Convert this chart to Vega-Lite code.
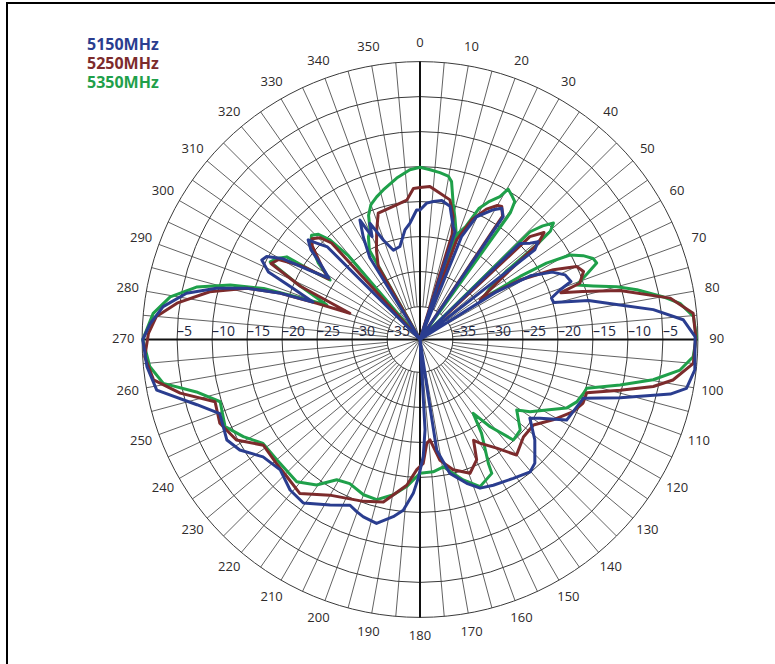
{
  "$schema": "https://vega.github.io/schema/vega-lite/v6.json",
  "width": 768,
  "height": 661,
  "padding": {"left": 7, "top": 3, "right": 0, "bottom": 0},
  "autosize": {"type": "none"},
  "background": "white",
  "config": {"view": {"stroke": "black", "strokeWidth": 2, "strokeDash": [768, 1429, 661]}, "font": "Open Sans"},
  "datasets": {
    "rings": [{"db": 0}, {"db": -5}, {"db": -10}, {"db": -15}, {"db": -20}, {"db": -25}, {"db": -30}, {"db": -35}],
    "spokes": [{"a":5},{"a":10},{"a":15},{"a":20},{"a":25},{"a":30},{"a":35},{"a":40},{"a":45},{"a":50},{"a":55},{"a":60},{"a":65},{"a":70},{"a":75},{"a":80},{"a":85},{"a":95},{"a":100},{"a":105},{"a":110},{"a":115},{"a":120},{"a":125},{"a":130},{"a":135},{"a":140},{"a":145},{"a":150},{"a":155},{"a":160},{"a":165},{"a":170},{"a":175},{"a":185},{"a":190},{"a":195},{"a":200},{"a":205},{"a":210},{"a":215},{"a":220},{"a":225},{"a":230},{"a":235},{"a":240},{"a":245},{"a":250},{"a":255},{"a":260},{"a":265},{"a":275},{"a":280},{"a":285},{"a":290},{"a":295},{"a":300},{"a":305},{"a":310},{"a":315},{"a":320},{"a":325},{"a":330},{"a":335},{"a":340},{"a":345},{"a":350},{"a":355}],
    "innerSpokes": [{"a":18},{"a":36},{"a":54},{"a":72},{"a":108},{"a":126},{"a":144},{"a":162},{"a":198},{"a":216},{"a":234},{"a":252},{"a":288},{"a":306},{"a":324},{"a":342}],
    "axes": [{"a": 0}, {"a": 90}],
    "angleLabels": [{"a":0},{"a":10},{"a":20},{"a":30},{"a":40},{"a":50},{"a":60},{"a":70},{"a":80},{"a":90},{"a":100},{"a":110},{"a":120},{"a":130},{"a":140},{"a":150},{"a":160},{"a":170},{"a":180},{"a":190},{"a":200},{"a":210},{"a":220},{"a":230},{"a":240},{"a":250},{"a":260},{"a":270},{"a":280},{"a":290},{"a":300},{"a":310},{"a":320},{"a":330},{"a":340},{"a":350}],
    "dbLabels": [{"db":-5,"s":-1},{"db":-10,"s":-1},{"db":-15,"s":-1},{"db":-20,"s":-1},{"db":-25,"s":-1},{"db":-30,"s":-1},{"db":-35,"s":-1},{"db":-5,"s":1},{"db":-10,"s":1},{"db":-15,"s":1},{"db":-20,"s":1},{"db":-25,"s":1},{"db":-30,"s":1},{"db":-35,"s":1}],
    "traces": [
      {"f":"5350MHz","a":0,"db":-15.1},{"f":"5350MHz","a":3.4,"db":-15.4},{"f":"5350MHz","a":6.8,"db":-15.7},{"f":"5350MHz","a":9.8,"db":-16.0},{"f":"5350MHz","a":11.3,"db":-16.7},{"f":"5350MHz","a":13.7,"db":-19.7},{"f":"5350MHz","a":16,"db":-21.6},{"f":"5350MHz","a":18.4,"db":-23.4},{"f":"5350MHz","a":19.2,"db":-40},{"f":"5350MHz","a":19.8,"db":-23.6},{"f":"5350MHz","a":22,"db":-22.3},{"f":"5350MHz","a":24.2,"db":-19.2},{"f":"5350MHz","a":26.7,"db":-17.6},{"f":"5350MHz","a":29.2,"db":-16.3},{"f":"5350MHz","a":30.4,"db":-14.8},{"f":"5350MHz","a":32.5,"db":-15.3},{"f":"5350MHz","a":34.5,"db":-15.8},{"f":"5350MHz","a":35.5,"db":-17.5},{"f":"5350MHz","a":36.2,"db":-40},{"f":"5350MHz","a":44.8,"db":-40},{"f":"5350MHz","a":45.6,"db":-17.7},{"f":"5350MHz","a":47.2,"db":-15.8},{"f":"5350MHz","a":48.9,"db":-14.4},{"f":"5350MHz","a":50.3,"db":-15.5},{"f":"5350MHz","a":51,"db":-18.5},{"f":"5350MHz","a":51.6,"db":-24},{"f":"5350MHz","a":54,"db":-27.5},{"f":"5350MHz","a":56.8,"db":-29.0},{"f":"5350MHz","a":57.8,"db":-22.8},{"f":"5350MHz","a":58.9,"db":-18.6},{"f":"5350MHz","a":60.6,"db":-15.1},{"f":"5350MHz","a":62.8,"db":-13.5},{"f":"5350MHz","a":64.9,"db":-12.4},{"f":"5350MHz","a":66.6,"db":-12.2},{"f":"5350MHz","a":68.5,"db":-14},{"f":"5350MHz","a":70.8,"db":-16.0},{"f":"5350MHz","a":72.8,"db":-13.8},{"f":"5350MHz","a":75,"db":-10.6},{"f":"5350MHz","a":77.1,"db":-7.9},{"f":"5350MHz","a":80,"db":-4.5},{"f":"5350MHz","a":82.1,"db":-2.2},{"f":"5350MHz","a":85.2,"db":-0.5},{"f":"5350MHz","a":89.4,"db":-0.2},{"f":"5350MHz","a":93.6,"db":-0.6},{"f":"5350MHz","a":96.7,"db":-2.3},{"f":"5350MHz","a":99.8,"db":-5.9},{"f":"5350MHz","a":102.8,"db":-10.4},{"f":"5350MHz","a":106.3,"db":-14.9},{"f":"5350MHz","a":108.2,"db":-15.1},{"f":"5350MHz","a":111.7,"db":-15.6},{"f":"5350MHz","a":115.1,"db":-16.6},{"f":"5350MHz","a":119.1,"db":-19.0},{"f":"5350MHz","a":123.3,"db":-20.9},{"f":"5350MHz","a":126.1,"db":-22.6},{"f":"5350MHz","a":132.1,"db":-20.4},{"f":"5350MHz","a":137.1,"db":-20.1},{"f":"5350MHz","a":141.2,"db":-23.7},{"f":"5350MHz","a":144.2,"db":-26.7},{"f":"5350MHz","a":146.7,"db":-23.7},{"f":"5350MHz","a":151.1,"db":-19.5},{"f":"5350MHz","a":151.8,"db":-18.0},{"f":"5350MHz","a":157.8,"db":-17.0},{"f":"5350MHz","a":162.9,"db":-18.7},{"f":"5350MHz","a":169.6,"db":-21.2},{"f":"5350MHz","a":174.3,"db":-20.7},{"f":"5350MHz","a":180,"db":-20.6},{"f":"5350MHz","a":185.2,"db":-18.6},{"f":"5350MHz","a":189.7,"db":-17.2},{"f":"5350MHz","a":195.1,"db":-16.0},{"f":"5350MHz","a":200,"db":-16.1},{"f":"5350MHz","a":206,"db":-16.8},{"f":"5350MHz","a":210.7,"db":-16.4},{"f":"5350MHz","a":215.4,"db":-14.2},{"f":"5350MHz","a":220.9,"db":-12.8},{"f":"5350MHz","a":229.9,"db":-13.0},{"f":"5350MHz","a":236.5,"db":-12.8},{"f":"5350MHz","a":241.2,"db":-10.9},{"f":"5350MHz","a":245.9,"db":-9.2},{"f":"5350MHz","a":252.7,"db":-9.8},{"f":"5350MHz","a":256.8,"db":-6.9},{"f":"5350MHz","a":260.3,"db":-2.5},{"f":"5350MHz","a":264.3,"db":-0.9},{"f":"5350MHz","a":270,"db":-0.1},{"f":"5350MHz","a":275.6,"db":-1.4},{"f":"5350MHz","a":279.7,"db":-3.5},{"f":"5350MHz","a":283.2,"db":-6.9},{"f":"5350MHz","a":286,"db":-11.5},{"f":"5350MHz","a":288.1,"db":-16.2},{"f":"5350MHz","a":289.1,"db":-21.1},{"f":"5350MHz","a":290.3,"db":-25.5},{"f":"5350MHz","a":294.5,"db":-20.3},{"f":"5350MHz","a":297.4,"db":-15.6},{"f":"5350MHz","a":299.5,"db":-16.2},{"f":"5350MHz","a":301.8,"db":-17.3},{"f":"5350MHz","a":302.3,"db":-21.1},{"f":"5350MHz","a":303.5,"db":-24.3},{"f":"5350MHz","a":307,"db":-21.5},{"f":"5350MHz","a":311,"db":-19},{"f":"5350MHz","a":313.9,"db":-18.2},{"f":"5350MHz","a":316,"db":-18.8},{"f":"5350MHz","a":317.9,"db":-20.5},{"f":"5350MHz","a":319.5,"db":-24},{"f":"5350MHz","a":320.5,"db":-40},{"f":"5350MHz","a":329.5,"db":-40},{"f":"5350MHz","a":330.5,"db":-25},{"f":"5350MHz","a":333.3,"db":-23.3},{"f":"5350MHz","a":335.5,"db":-22.5},{"f":"5350MHz","a":337.5,"db":-20.5},{"f":"5350MHz","a":340,"db":-19.2},{"f":"5350MHz","a":343.1,"db":-18.4},{"f":"5350MHz","a":346.2,"db":-17.7},{"f":"5350MHz","a":351.8,"db":-16.4},{"f":"5350MHz","a":356.6,"db":-15.4},{"f":"5350MHz","a":360,"db":-15.1},
      {"f":"5250MHz","a":0,"db":-18.0},{"f":"5250MHz","a":3.7,"db":-17.8},{"f":"5250MHz","a":7.8,"db":-18.6},{"f":"5250MHz","a":12.1,"db":-19.3},{"f":"5250MHz","a":15.1,"db":-21.5},{"f":"5250MHz","a":17,"db":-24},{"f":"5250MHz","a":17.8,"db":-40},{"f":"5250MHz","a":19.4,"db":-40},{"f":"5250MHz","a":20.2,"db":-24.5},{"f":"5250MHz","a":23.5,"db":-21},{"f":"5250MHz","a":27,"db":-18.8},{"f":"5250MHz","a":30,"db":-17.6},{"f":"5250MHz","a":31.6,"db":-17.4},{"f":"5250MHz","a":33.8,"db":-18.5},{"f":"5250MHz","a":34.8,"db":-40},{"f":"5250MHz","a":44.8,"db":-40},{"f":"5250MHz","a":46.9,"db":-18.2},{"f":"5250MHz","a":49.2,"db":-16.3},{"f":"5250MHz","a":50.9,"db":-17.9},{"f":"5250MHz","a":52.9,"db":-24.8},{"f":"5250MHz","a":56.5,"db":-29.4},{"f":"5250MHz","a":59.2,"db":-23.1},{"f":"5250MHz","a":62.4,"db":-18.2},{"f":"5250MHz","a":65,"db":-15.0},{"f":"5250MHz","a":67.4,"db":-14.4},{"f":"5250MHz","a":70.6,"db":-15.5},{"f":"5250MHz","a":71.6,"db":-18.5},{"f":"5250MHz","a":73.5,"db":-15.5},{"f":"5250MHz","a":76.2,"db":-10.3},{"f":"5250MHz","a":80.6,"db":-3.5},{"f":"5250MHz","a":84.5,"db":-0.5},{"f":"5250MHz","a":89.5,"db":-0.3},{"f":"5250MHz","a":95,"db":-0.5},{"f":"5250MHz","a":99.1,"db":-3.1},{"f":"5250MHz","a":101.4,"db":-5.7},{"f":"5250MHz","a":104.2,"db":-10.2},{"f":"5250MHz","a":107.7,"db":-14.7},{"f":"5250MHz","a":111.3,"db":-14.7},{"f":"5250MHz","a":115.2,"db":-15.5},{"f":"5250MHz","a":121.1,"db":-17.5},{"f":"5250MHz","a":127,"db":-19.4},{"f":"5250MHz","a":133.3,"db":-19.4},{"f":"5250MHz","a":140.1,"db":-18.2},{"f":"5250MHz","a":144.8,"db":-20.7},{"f":"5250MHz","a":150,"db":-22.6},{"f":"5250MHz","a":152,"db":-23.4},{"f":"5250MHz","a":154.8,"db":-20.7},{"f":"5250MHz","a":159.5,"db":-19.3},{"f":"5250MHz","a":165.7,"db":-20.5},{"f":"5250MHz","a":170.6,"db":-22.2},{"f":"5250MHz","a":174.3,"db":-25.3},{"f":"5250MHz","a":176.3,"db":-24.8},{"f":"5250MHz","a":178.5,"db":-22.0},{"f":"5250MHz","a":181.4,"db":-21.1},{"f":"5250MHz","a":185.2,"db":-18.8},{"f":"5250MHz","a":192.7,"db":-15.9},{"f":"5250MHz","a":199.3,"db":-15.2},{"f":"5250MHz","a":210.1,"db":-14.0},{"f":"5250MHz","a":218,"db":-11.8},{"f":"5250MHz","a":224.2,"db":-12.4},{"f":"5250MHz","a":229.2,"db":-12.6},{"f":"5250MHz","a":236,"db":-12.7},{"f":"5250MHz","a":241.3,"db":-9.8},{"f":"5250MHz","a":247.3,"db":-8.7},{"f":"5250MHz","a":253.1,"db":-9.1},{"f":"5250MHz","a":257.4,"db":-4.6},{"f":"5250MHz","a":261.4,"db":-1.2},{"f":"5250MHz","a":266.4,"db":-0.3},{"f":"5250MHz","a":271.3,"db":-0.9},{"f":"5250MHz","a":275,"db":-1.9},{"f":"5250MHz","a":278.5,"db":-4.6},{"f":"5250MHz","a":282.8,"db":-8.9},{"f":"5250MHz","a":286.5,"db":-13.9},{"f":"5250MHz","a":288.3,"db":-18.6},{"f":"5250MHz","a":289.3,"db":-24.1},{"f":"5250MHz","a":290.5,"db":-29.0},{"f":"5250MHz","a":294,"db":-21},{"f":"5250MHz","a":297,"db":-15.8},{"f":"5250MHz","a":299.5,"db":-16.5},{"f":"5250MHz","a":302,"db":-20},{"f":"5250MHz","a":303.5,"db":-24},{"f":"5250MHz","a":307,"db":-22},{"f":"5250MHz","a":311,"db":-19.3},{"f":"5250MHz","a":313,"db":-18.6},{"f":"5250MHz","a":315.5,"db":-19.3},{"f":"5250MHz","a":317.5,"db":-21},{"f":"5250MHz","a":319,"db":-40},{"f":"5250MHz","a":329.5,"db":-40},{"f":"5250MHz","a":330.2,"db":-27.7},{"f":"5250MHz","a":334,"db":-25.5},{"f":"5250MHz","a":338.4,"db":-22.9},{"f":"5250MHz","a":341.7,"db":-20.7},{"f":"5250MHz","a":348.6,"db":-20.3},{"f":"5250MHz","a":354.6,"db":-19.7},{"f":"5250MHz","a":357.5,"db":-18.1},{"f":"5250MHz","a":360,"db":-18.0},
      {"f":"5150MHz","a":0,"db":-21.2},{"f":"5150MHz","a":2.8,"db":-20.2},{"f":"5150MHz","a":5.5,"db":-19.9},{"f":"5150MHz","a":8.9,"db":-19.6},{"f":"5150MHz","a":12.7,"db":-20.2},{"f":"5150MHz","a":16.4,"db":-22.9},{"f":"5150MHz","a":18,"db":-23.5},{"f":"5150MHz","a":18.6,"db":-40},{"f":"5150MHz","a":21.2,"db":-40},{"f":"5150MHz","a":22,"db":-23.8},{"f":"5150MHz","a":24.7,"db":-20.4},{"f":"5150MHz","a":29.5,"db":-18.4},{"f":"5150MHz","a":31.9,"db":-17.6},{"f":"5150MHz","a":34.1,"db":-18.5},{"f":"5150MHz","a":35,"db":-40},{"f":"5150MHz","a":45,"db":-40},{"f":"5150MHz","a":46.1,"db":-19.9},{"f":"5150MHz","a":48.8,"db":-18.8},{"f":"5150MHz","a":50.4,"db":-17.8},{"f":"5150MHz","a":52,"db":-18.9},{"f":"5150MHz","a":52.8,"db":-40},{"f":"5150MHz","a":57,"db":-40},{"f":"5150MHz","a":58,"db":-27},{"f":"5150MHz","a":60,"db":-21.5},{"f":"5150MHz","a":63,"db":-18.5},{"f":"5150MHz","a":66,"db":-17},{"f":"5150MHz","a":69,"db":-16.6},{"f":"5150MHz","a":70.5,"db":-18.5},{"f":"5150MHz","a":72.5,"db":-20},{"f":"5150MHz","a":74.5,"db":-19.9},{"f":"5150MHz","a":77,"db":-15},{"f":"5150MHz","a":80.2,"db":-10.7},{"f":"5150MHz","a":82.7,"db":-6.1},{"f":"5150MHz","a":85.7,"db":-2.0},{"f":"5150MHz","a":89.4,"db":-0.4},{"f":"5150MHz","a":96.3,"db":-0.2},{"f":"5150MHz","a":100.4,"db":-1.0},{"f":"5150MHz","a":102.3,"db":-3.1},{"f":"5150MHz","a":103.4,"db":-5.4},{"f":"5150MHz","a":106.2,"db":-9.9},{"f":"5150MHz","a":109.8,"db":-14.9},{"f":"5150MHz","a":118.8,"db":-15.8},{"f":"5150MHz","a":123.3,"db":-19.2},{"f":"5150MHz","a":125.6,"db":-20.4},{"f":"5150MHz","a":131.2,"db":-17.9},{"f":"5150MHz","a":137.1,"db":-15.6},{"f":"5150MHz","a":140.2,"db":-15.1},{"f":"5150MHz","a":146.1,"db":-15.8},{"f":"5150MHz","a":153.3,"db":-16.4},{"f":"5150MHz","a":158,"db":-16.8},{"f":"5150MHz","a":162,"db":-18.1},{"f":"5150MHz","a":167.4,"db":-20.1},{"f":"5150MHz","a":171.4,"db":-23.7},{"f":"5150MHz","a":171.7,"db":-31.4},{"f":"5150MHz","a":172.5,"db":-40},{"f":"5150MHz","a":176.5,"db":-40},{"f":"5150MHz","a":176.8,"db":-26.8},{"f":"5150MHz","a":178.4,"db":-23},{"f":"5150MHz","a":180.7,"db":-19.9},{"f":"5150MHz","a":182.5,"db":-17.7},{"f":"5150MHz","a":185.6,"db":-15.2},{"f":"5150MHz","a":188.6,"db":-14.1},{"f":"5150MHz","a":193.3,"db":-12.7},{"f":"5150MHz","a":197.7,"db":-13.1},{"f":"5150MHz","a":200.2,"db":-13.5},{"f":"5150MHz","a":202.9,"db":-14.0},{"f":"5150MHz","a":208.5,"db":-12.8},{"f":"5150MHz","a":215.5,"db":-11.0},{"f":"5150MHz","a":220.8,"db":-11.3},{"f":"5150MHz","a":227,"db":-12.4},{"f":"5150MHz","a":233.2,"db":-11.7},{"f":"5150MHz","a":238.5,"db":-9.5},{"f":"5150MHz","a":242.5,"db":-8.6},{"f":"5150MHz","a":249.7,"db":-9.2},{"f":"5150MHz","a":253.7,"db":-6.5},{"f":"5150MHz","a":259.1,"db":-1.4},{"f":"5150MHz","a":264.3,"db":-0.5},{"f":"5150MHz","a":270,"db":-0.1},{"f":"5150MHz","a":273.4,"db":-1.1},{"f":"5150MHz","a":277.3,"db":-2.7},{"f":"5150MHz","a":281.2,"db":-5.7},{"f":"5150MHz","a":284.1,"db":-9.7},{"f":"5150MHz","a":286.5,"db":-13.9},{"f":"5150MHz","a":288.3,"db":-18.5},{"f":"5150MHz","a":289.3,"db":-23.5},{"f":"5150MHz","a":292,"db":-20},{"f":"5150MHz","a":294,"db":-16},{"f":"5150MHz","a":296.7,"db":-14.4},{"f":"5150MHz","a":298.4,"db":-14.8},{"f":"5150MHz","a":300.5,"db":-17},{"f":"5150MHz","a":302,"db":-21},{"f":"5150MHz","a":304,"db":-24},{"f":"5150MHz","a":307,"db":-22},{"f":"5150MHz","a":309.5,"db":-19.5},{"f":"5150MHz","a":311.7,"db":-18.3},{"f":"5150MHz","a":313,"db":-19.5},{"f":"5150MHz","a":315,"db":-21},{"f":"5150MHz","a":316.5,"db":-40},{"f":"5150MHz","a":327,"db":-40},{"f":"5150MHz","a":328.5,"db":-26},{"f":"5150MHz","a":331,"db":-23},{"f":"5150MHz","a":333.3,"db":-20.6},{"f":"5150MHz","a":335,"db":-23.5},{"f":"5150MHz","a":336.7,"db":-21.6},{"f":"5150MHz","a":339.8,"db":-24.6},{"f":"5150MHz","a":343.4,"db":-26.4},{"f":"5150MHz","a":347.8,"db":-26.1},{"f":"5150MHz","a":352.2,"db":-23.9},{"f":"5150MHz","a":355.1,"db":-23.0},{"f":"5150MHz","a":358.5,"db":-21.2},{"f":"5150MHz","a":360,"db":-21.2}
    ]
  },
  "layer": [
    {
      "data": {"name": "rings"},
      "transform": [{"calculate": "pow(14 * (datum.db + 39.7), 2)", "as": "sz"}],
      "mark": {"type": "point", "shape": "circle", "filled": false, "stroke": "#3a3a3a", "strokeWidth": 1, "opacity": 1},
      "encoding": {
        "x": {"datum": 0, "type": "quantitative", "scale": {"domain": [-59, 50.714], "nice": false, "zero": false}, "axis": null},
        "y": {"datum": 0, "type": "quantitative", "scale": {"domain": [-46.357, 48.071], "nice": false, "zero": false}, "axis": null},
        "size": {"field": "sz", "type": "quantitative", "scale": null, "legend": null}
      }
    },
    {
      "data": {"name": "spokes"},
      "transform": [
        {"calculate": "4.7 * sin(datum.a * PI / 180)", "as": "x"},
        {"calculate": "4.7 * cos(datum.a * PI / 180)", "as": "y"},
        {"calculate": "39.7 * sin(datum.a * PI / 180)", "as": "x2"},
        {"calculate": "39.7 * cos(datum.a * PI / 180)", "as": "y2"}
      ],
      "mark": {"type": "rule", "stroke": "#3a3a3a", "strokeWidth": 0.8},
      "encoding": {
        "x": {"field": "x", "type": "quantitative"},
        "y": {"field": "y", "type": "quantitative"},
        "x2": {"field": "x2"},
        "y2": {"field": "y2"}
      }
    },
    {
      "data": {"name": "innerSpokes"},
      "transform": [
        {"calculate": "4.7 * sin(datum.a * PI / 180)", "as": "x"},
        {"calculate": "4.7 * cos(datum.a * PI / 180)", "as": "y"},
        {"calculate": "0", "as": "x2"},
        {"calculate": "0", "as": "y2"}
      ],
      "mark": {"type": "rule", "stroke": "#3a3a3a", "strokeWidth": 0.8},
      "encoding": {
        "x": {"field": "x", "type": "quantitative"},
        "y": {"field": "y", "type": "quantitative"},
        "x2": {"field": "x2"},
        "y2": {"field": "y2"}
      }
    },
    {
      "data": {"name": "axes"},
      "transform": [
        {"calculate": "39.7 * sin(datum.a * PI / 180)", "as": "x"},
        {"calculate": "39.7 * cos(datum.a * PI / 180)", "as": "y"},
        {"calculate": "-datum.x", "as": "x2"},
        {"calculate": "-datum.y", "as": "y2"}
      ],
      "mark": {"type": "rule", "stroke": "#111111", "strokeWidth": 2},
      "encoding": {
        "x": {"field": "x", "type": "quantitative"},
        "y": {"field": "y", "type": "quantitative"},
        "x2": {"field": "x2"},
        "y2": {"field": "y2"}
      }
    },
    {
      "data": {"name": "dbLabels"},
      "transform": [
        {"calculate": "datum.s * (datum.db + 39.7)", "as": "x"},
        {"calculate": "0", "as": "y"},
        {"calculate": "'\u2013' + abs(datum.db)", "as": "lab"}
      ],
      "mark": {"type": "text", "align": "left", "baseline": "alphabetic", "dy": -3, "fontSize": 14, "font": "Open Sans", "fill": "#1d2540"},
      "encoding": {
        "x": {"field": "x", "type": "quantitative"},
        "y": {"field": "y", "type": "quantitative"},
        "text": {"field": "lab"}
      }
    },
    {
      "data": {"name": "angleLabels"},
      "transform": [
        {"calculate": "42.4 * sin(datum.a * PI / 180)", "as": "x"},
        {"calculate": "42.4 * cos(datum.a * PI / 180)", "as": "y"}
      ],
      "mark": {"type": "text", "align": "center", "baseline": "middle", "fontSize": 13, "font": "Open Sans", "fill": "#2e2a2a"},
      "encoding": {
        "x": {"field": "x", "type": "quantitative"},
        "y": {"field": "y", "type": "quantitative"},
        "text": {"field": "a", "type": "quantitative", "format": "d"}
      }
    },
    {
      "data": {"name": "traces"},
      "transform": [
        {"calculate": "max(0, datum.db + 39.7)", "as": "rr"},
        {"calculate": "datum.rr * sin(datum.a * PI / 180)", "as": "x"},
        {"calculate": "datum.rr * cos(datum.a * PI / 180)", "as": "y"}
      ],
      "mark": {"type": "line", "strokeWidth": 3, "strokeJoin": "round", "strokeCap": "round"},
      "encoding": {
        "x": {"field": "x", "type": "quantitative"},
        "y": {"field": "y", "type": "quantitative"},
        "order": {"field": "a", "type": "quantitative"},
        "color": {
          "field": "f", "type": "nominal",
          "scale": {"domain": ["5150MHz", "5250MHz", "5350MHz"], "range": ["#2a3d8f", "#7c2b2c", "#1fa04a"]},
          "legend": {
            "orient": "none", "legendX": 64, "legendY": 34, "title": null,
            "labelFontSize": 16, "labelFontWeight": "bold", "labelFont": "Open Sans", "labelBaseline": "middle",
            "symbolSize": 0, "symbolOpacity": 0, "symbolStrokeWidth": 0, "labelOffset": 0, "rowPadding": 3,
            "encode": {"labels": {"update": {"fill": {"scale": "color", "field": "value"}}}}
          }
        }
      }
    }
  ]
}
